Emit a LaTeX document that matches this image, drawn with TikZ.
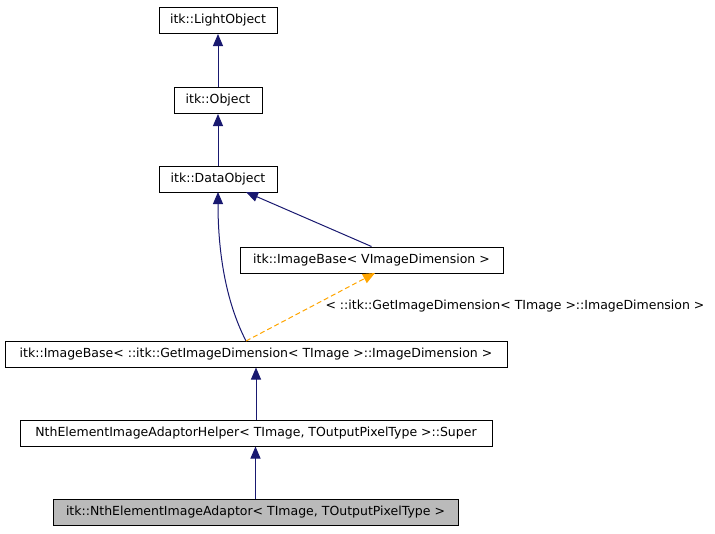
\documentclass[tikz,border=0pt]{standalone}
\usepackage{fontspec}
\setmainfont{DejaVu Sans}
\usetikzlibrary{arrows.meta}
\definecolor{edgeblue}{RGB}{25,25,112}
\definecolor{tplorange}{RGB}{255,165,0}
\begin{document}
\begin{tikzpicture}[x=1pt,y=-1pt,font=\fontsize{12.5}{14}\selectfont,
  cls/.style={draw, line width=1pt, inner sep=0pt, minimum height=26pt, fill=white},
  inherit/.style={draw=edgeblue, line width=1pt, -{Triangle[width=10pt,length=12pt,fill=edgeblue]}},
  tmpl/.style={draw=tplorange, line width=1pt, dash pattern=on 5pt off 3pt, -{Triangle[width=10pt,length=12pt,fill=tplorange]}}]

  \useasboundingbox (0,0) rectangle (715,533);

  % classes
  \node[cls, minimum width=118pt] (light) at (218,20.5) {itk::LightObject};
  \node[cls, minimum width=88pt] (object) at (218,100.5) {itk::Object};
  \node[cls, minimum width=118pt] (data) at (218,179.5) {itk::DataObject};
  \node[cls, minimum width=263pt] (basev) at (371.5,260) {itk::ImageBase< VImageDimension >};
  \node[cls, minimum width=502pt] (baseg) at (256,354) {itk::ImageBase< ::itk::GetImageDimension< TImage >::ImageDimension >};
  \node[cls, minimum width=472pt] (helper) at (256,433) {NthElementImageAdaptorHelper< TImage, TOutputPixelType >::Super};
  \node[cls, minimum width=405pt, fill=black!27] (adaptor) at (255.5,512) {itk::NthElementImageAdaptor< TImage, TOutputPixelType >};

  % inheritance
  \draw[inherit] (object) -- (light);
  \draw[inherit] (data) -- (object);
  \draw[inherit] (basev.north) -- (246,192);
  \draw[inherit] (246,341) .. controls (225,300) and (218,250) .. (218,192);
  \draw[tmpl] (246,341) -- (375,273);
  \node[anchor=west] (tlabel) at (322,306) {< ::itk::GetImageDimension< TImage >::ImageDimension >};
  \draw[inherit] (helper) -- (baseg);
  \draw[inherit] (adaptor) -- (helper.south -| adaptor);

\end{tikzpicture}
\end{document}
